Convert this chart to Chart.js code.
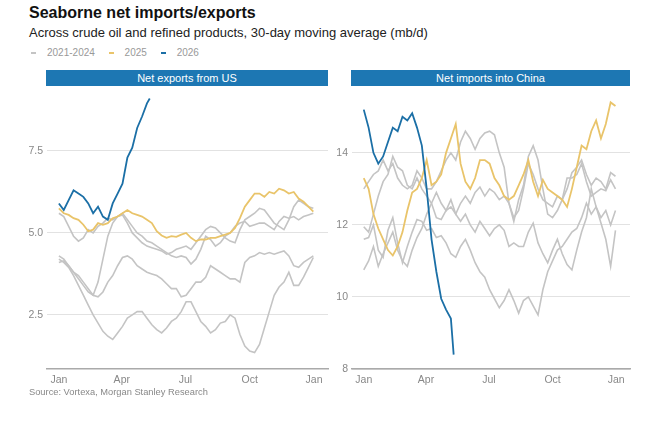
<!DOCTYPE html>
<html>
<head>
<meta charset="utf-8">
<script src="https://cdn.jsdelivr.net/npm/chart.js@4.4.1/dist/chart.umd.min.js"></script>
<style>
  body { margin: 0; background: #fff; font-family: "Liberation Sans", Arial, sans-serif; }
  #wrap { position: relative; width: 648px; height: 424px; overflow: hidden; }
  .title { position: absolute; left: 29px; top: 4px; font-size: 16px; font-weight: bold; color: #111; }
  .sub { position: absolute; left: 29px; top: 25px; font-size: 13px; color: #222; }
  .legend { position: absolute; left: 31px; top: 47px; font-size: 10px; color: #999; white-space: nowrap; }
  .legend span { display: inline-block; }
  .legend .d { width: 5px; height: 2px; vertical-align: middle; margin-right: 11px; }
  .legend .t { margin-right: 11px; }
  .hdr { position: absolute; top: 70px; height: 16px; background: #1d77b3; color: #fff; font-size: 11px; text-align: center; line-height: 16px; }
  .src { position: absolute; left: 29px; top: 387px; font-size: 9.3px; color: #888; }
  canvas { position: absolute; top: 86px; }
</style>
</head>
<body>
<div id="wrap">
  <div class="title">Seaborne net imports/exports</div>
  <div class="sub">Across crude oil and refined products, 30-day moving average (mb/d)</div>
  <div class="legend">
    <span class="d" style="background:#c4c4c4"></span><span class="t">2021-2024</span>
    <span class="d" style="background:#e9c46a"></span><span class="t">2025</span>
    <span class="d" style="background:#1b6fa6"></span><span class="t">2026</span>
  </div>
  <div class="hdr" style="left:46px;width:282px">Net exports from US</div>
  <div class="hdr" style="left:351px;width:279px">Net imports into China</div>
  <canvas id="us" width="335" height="305" style="left:0px"></canvas>
  <canvas id="cn" width="322" height="305" style="left:320px"></canvas>
  <div class="src">Source: Vortexa, Morgan Stanley Research</div>
</div>
<script>
// x positions: day of year, one reading per week
const weekDays = Array.from({ length: 53 }, (_, i) => i * 7);
const days2026 = [0, 7, 14, 21, 28, 35, 42, 49, 56, 63, 70, 77, 84, 91, 98, 105, 112, 119, 126, 130];
const xTickDays = [0, 90, 181, 273, 365];
const xTickLabels = ['Jan', 'Apr', 'Jul', 'Oct', 'Jan'];

// Net exports from US (mb/d)
const usGray1 = [5.6,5.5,5.2,4.9,4.75,4.85,5.1,5.0,5.2,5.3,5.45,5.4,5.5,5.55,5.3,5.0,4.85,4.7,4.6,4.55,4.5,4.45,4.35,4.4,4.5,4.55,4.6,4.5,4.7,4.9,5.1,5.2,5.15,5.0,4.85,4.75,4.7,5.1,5.4,5.5,5.6,5.75,5.7,5.5,5.3,5.2,5.1,5.4,5.8,6.0,5.9,5.8,5.75];
const usGray2 = [4.3,4.2,4.0,3.8,3.6,3.4,3.2,3.1,3.5,4.2,4.9,5.3,5.5,5.6,5.4,5.2,5.0,4.9,4.75,4.7,4.6,4.5,4.4,4.3,4.25,4.3,4.25,4.05,4.2,4.5,4.9,4.8,4.6,4.7,4.9,5.0,5.2,5.3,5.35,5.2,5.25,5.3,5.3,5.2,5.1,5.35,5.5,5.45,5.5,5.4,5.5,5.55,5.6];
const usGray3 = [4.1,4.15,4.0,3.8,3.7,3.5,3.3,3.1,3.05,3.2,3.5,3.7,4.0,4.25,4.3,4.2,4.0,3.9,3.8,3.75,3.7,3.6,3.45,3.3,3.3,3.05,3.1,3.3,3.5,3.5,3.65,4.0,3.9,3.8,3.7,3.6,3.6,3.5,4.1,4.25,4.3,4.4,4.35,4.4,4.35,4.4,4.45,4.3,4.0,3.95,4.1,4.2,4.3];
const usGray4 = [4.2,4.1,3.95,3.7,3.4,3.1,2.8,2.5,2.25,2.0,1.85,1.75,1.95,2.15,2.4,2.5,2.6,2.6,2.4,2.2,2.05,1.95,2.1,2.3,2.4,2.6,2.9,2.9,2.6,2.3,2.15,1.95,2.05,2.25,2.3,2.5,2.4,1.9,1.55,1.4,1.35,1.6,2.1,2.6,3.1,3.35,3.5,3.8,3.4,3.4,3.65,3.95,4.25];
const us2025 = [5.75,5.6,5.55,5.45,5.4,5.25,5.05,5.1,5.3,5.25,5.3,5.45,5.5,5.6,5.7,5.6,5.55,5.5,5.4,5.3,5.05,4.92,4.85,4.9,4.88,4.95,5.0,4.85,4.75,4.8,4.8,4.85,4.85,4.9,4.95,5.0,5.15,5.45,5.8,6.0,6.2,6.2,6.1,6.25,6.2,6.35,6.3,6.2,6.25,6.05,5.95,5.8,5.65];
const us2026 = [5.9,5.7,6.0,6.3,6.2,6.1,5.9,5.6,5.8,5.5,5.4,5.9,6.2,6.5,7.3,7.6,8.2,8.55,8.95,9.1];

// Net imports into China (mb/d)
const cnGray1 = [13.0,13.2,13.4,13.5,13.8,13.5,13.7,13.3,13.1,13.0,13.1,13.5,13.3,13.0,13.0,13.2,13.5,13.8,14.0,13.8,14.3,14.6,14.4,14.1,14.4,14.55,14.6,14.5,14.0,13.6,12.6,12.1,12.7,13.1,13.9,14.2,13.8,13.0,12.3,12.2,12.4,12.7,13.3,13.3,13.4,13.7,13.2,12.8,12.9,13.0,12.95,13.25,13.0];
const cnGray2 = [11.95,11.8,12.3,12.8,13.2,13.4,13.9,13.6,13.5,13.1,13.0,13.3,13.0,12.8,12.6,12.2,12.15,12.4,12.5,12.3,12.6,12.8,12.6,12.9,13.05,12.8,13.0,12.9,12.7,12.8,12.6,12.2,12.4,13.0,13.7,13.4,13.0,12.7,12.6,12.5,12.8,12.7,13.0,13.45,13.6,13.8,13.4,13.1,13.3,13.2,13.0,13.45,13.35];
const cnGray3 = [11.6,11.65,12.0,11.3,11.1,11.85,12.2,11.5,10.95,11.4,11.8,12.15,12.1,11.85,11.9,11.65,11.7,11.5,11.2,11.1,11.4,11.6,11.3,10.95,10.7,10.55,10.2,9.95,9.7,9.9,10.2,9.9,9.55,9.9,10.0,9.75,9.5,10.2,10.7,11.0,11.3,11.4,11.6,11.8,11.9,12.2,12.6,12.3,12.5,12.2,12.4,12.0,12.4];
const cnGray4 = [10.75,11.0,11.4,10.85,11.2,11.5,11.8,11.3,11.0,10.85,11.3,11.65,11.9,12.3,12.6,12.9,12.6,12.4,12.7,12.3,12.1,12.3,12.0,11.8,12.1,11.9,11.7,11.9,12.0,11.85,11.4,11.5,11.4,11.4,11.8,12.05,11.5,11.2,10.95,11.3,11.6,11.2,10.9,10.75,11.3,11.8,12.2,13.0,12.5,12.05,11.6,10.85,11.85];
const cn2025 = [13.3,13.0,12.3,11.9,11.6,11.3,11.15,11.4,11.8,12.4,12.9,13.0,13.3,13.8,13.1,13.2,13.4,14.0,14.4,14.8,13.7,13.2,13.0,13.3,13.8,13.8,13.7,13.3,13.1,12.8,12.7,12.8,13.1,13.4,13.8,13.2,12.8,13.25,13.0,12.9,12.8,12.7,12.5,13.0,13.6,14.2,14.1,14.6,14.9,14.4,14.8,15.4,15.3];
const cn2026 = [15.2,14.7,14.0,13.7,13.9,14.3,14.7,14.6,15.0,14.9,15.1,14.7,14.2,13.0,11.6,10.7,9.95,9.65,9.4,8.4];

const usTicks = [2.5, 5, 7.5];
const cnTicks = [8, 10, 12, 14];

const GRAY = '#c4c4c4', GOLD = '#e9c46a', BLUE = '#1b6fa6';

function pts(xs, ys) {
  return ys.map((v, i) => ({ x: xs[i], y: v }));
}

function line(xs, ys, color, width) {
  return { data: pts(xs, ys), borderColor: color, borderWidth: width, pointRadius: 0, tension: 0, fill: false };
}

function drawPanel(id, sets, ymin, ymax, yticks, fmt, yWidth, padRight) {
  new Chart(document.getElementById(id), {
    type: 'line',
    data: {
      // first dataset ends up on top
      datasets: [
        line(days2026, sets[5], BLUE, 1.8),
        line(weekDays, sets[4], GOLD, 1.8),
        line(weekDays, sets[0], GRAY, 1.6),
        line(weekDays, sets[1], GRAY, 1.6),
        line(weekDays, sets[2], GRAY, 1.6),
        line(weekDays, sets[3], GRAY, 1.6)
      ]
    },
    options: {
      responsive: false,
      animation: false,
      layout: { autoPadding: false, padding: { top: 2, right: padRight, left: 0, bottom: 0 } },
      plugins: { legend: { display: false }, tooltip: { enabled: false } },
      scales: {
        x: {
          type: 'linear', min: -17, max: 385,
          afterBuildTicks: s => { s.ticks = xTickDays.map(v => ({ value: v })); },
          afterFit: s => { s.height = 22; s.paddingLeft = 0; s.paddingRight = 0; },
          ticks: {
            callback: v => xTickLabels[xTickDays.indexOf(v)],
            color: '#888', font: { size: 10.5, family: 'Liberation Sans' },
            padding: 5, maxRotation: 0, autoSkip: false
          },
          grid: { display: false, drawTicks: false },
          border: { display: true, color: '#aaa', width: 1.5 }
        },
        y: {
          min: ymin, max: ymax,
          afterBuildTicks: s => { s.ticks = yticks.map(v => ({ value: v })); },
          afterFit: s => { s.width = yWidth; s.paddingTop = 0; s.paddingBottom = 0; },
          ticks: {
            callback: fmt,
            color: '#888', font: { size: 10.5, family: 'Liberation Sans' },
            padding: 4
          },
          grid: { color: '#e2e2e2', lineWidth: 1, drawTicks: false },
          border: { display: false }
        }
      }
    }
  });
}

drawPanel('us', [usGray1, usGray2, usGray3, usGray4, us2025, us2026],
  0.85, 9.42, usTicks, v => v.toFixed(1), 47, 7);
drawPanel('cn', [cnGray1, cnGray2, cnGray3, cnGray4, cn2025, cn2026],
  8, 15.8, cnTicks, v => String(v), 32, 12);
</script>
</body>
</html>
